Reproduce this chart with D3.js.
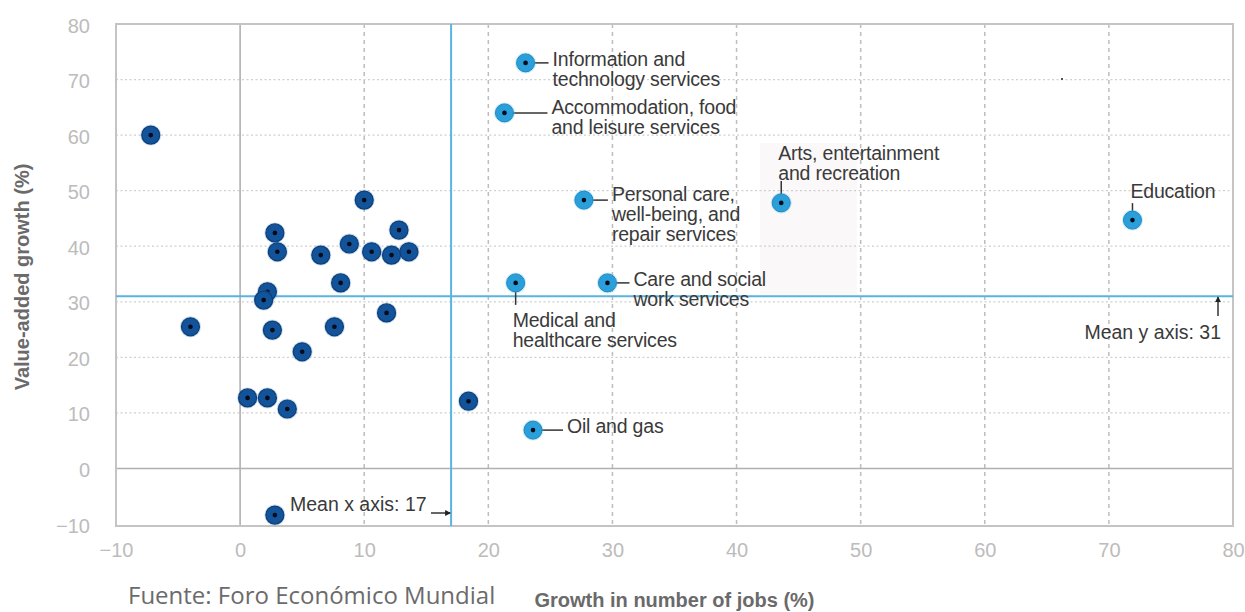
<!DOCTYPE html>
<html>
<head>
<meta charset="utf-8">
<script src="https://cdn.jsdelivr.net/npm/d3@7"></script>
<style>
  html, body { margin: 0; padding: 0; background: #fff; }
  svg { display: block; }
</style>
</head>
<body>
<svg id="chart" width="1245" height="612"></svg>
<script>
// ---------------- DATA ----------------
const xTicks = [-10, 0, 10, 20, 30, 40, 50, 60, 70, 80];
const yTicks = [-10, 0, 10, 20, 30, 40, 50, 60, 70, 80];

// Unlabelled sectors (dark blue)
const otherX = [-7.2, 10.0, 2.8, 3.0, 6.5, 8.8, 8.1, 10.6, 12.2, 12.8, 13.6, 2.2, 1.9, -4.0, 2.6, 7.6, 11.8, 5.0, 0.6, 2.2, 3.8, 2.8, 18.4];
const otherY = [60.0, 48.3, 42.4, 39.0, 38.4, 40.4, 33.4, 39.0, 38.4, 42.9, 39.0, 31.8, 30.3, 25.5, 24.9, 25.5, 28.0, 21.0, 12.7, 12.7, 10.7, -8.4, 12.1];

// Labelled sectors (light blue)
const sectorNames = [
  ["Information and", "technology services"],
  ["Accommodation, food", "and leisure services"],
  ["Personal care,", "well-being, and", "repair services"],
  ["Arts, entertainment", "and recreation"],
  ["Medical and", "healthcare services"],
  ["Care and social", "work services"],
  ["Oil and gas"],
  ["Education"]
];
const sectorX = [23.0, 21.3, 27.7, 43.6, 22.2, 29.6, 23.6, 71.9];
const sectorY = [73.0, 64.0, 48.3, 47.8, 33.4, 33.4, 6.9, 44.7];

const meanX = 17;
const meanY = 31;
const xTitle = "Growth in number of jobs (%)";
const yTitle = "Value-added growth (%)";
const source = "Fuente: Foro Económico Mundial";

// ---------------- LAYOUT ----------------
const labelLayout = [
  {dir: "h", dx: 27, dy: 3},
  {dir: "h", dx: 47, dy: 1},
  {dir: "h", dx: 28, dy: 1},
  {dir: "up", dx: -3, dy: -43, len: 22},
  {dir: "down", dx: -3, dy: 44, len: 22},
  {dir: "h", dx: 26, dy: 3},
  {dir: "h", dx: 34, dy: 3},
  {dir: "up", dx: -2, dy: -22, len: 17}
];
const lineStep = 20;

const svg = d3.select("#chart");
const mLeft = 116, mRight = 1233, mTop = 24, mBottom = 524;

const x = d3.scaleLinear().domain([-10, 80]).range([mLeft, mRight]);
const y = d3.scaleLinear().domain([-10, 80]).range([mBottom, mTop]);

const FONT = "'Liberation Sans', Arial, Helvetica, sans-serif";

// light shaded box near Arts label
svg.append("rect")
  .attr("x", 760).attr("y", 143).attr("width", 97).attr("height", y(meanY) - 143)
  .attr("fill", "#faf8f8");

const g = svg.append("g");
g.selectAll(".vgrid").data(xTicks.filter(d => d > 0 && d < 80)).join("line")
  .attr("x1", d => x(d)).attr("x2", d => x(d))
  .attr("y1", mTop).attr("y2", mBottom + 2)
  .attr("stroke", "#bdbdbd").attr("stroke-width", 1.5)
  .attr("stroke-dasharray", "4,4");
g.selectAll(".hgrid").data(yTicks.filter(d => d > 0 && d < 80)).join("line")
  .attr("x1", mLeft).attr("x2", mRight)
  .attr("y1", d => y(d)).attr("y2", d => y(d))
  .attr("stroke", "#cfcfcf").attr("stroke-width", 1.2)
  .attr("stroke-dasharray", "2,2.5");
g.append("line").attr("x1", x(0)).attr("x2", x(0)).attr("y1", mTop).attr("y2", mBottom + 2)
  .attr("stroke", "#b0b0b0").attr("stroke-width", 1.6);
g.append("line").attr("x1", mLeft).attr("x2", mRight).attr("y1", y(0)).attr("y2", y(0))
  .attr("stroke", "#b0b0b0").attr("stroke-width", 1.6);
g.append("rect").attr("x", mLeft).attr("y", mTop).attr("width", mRight - mLeft).attr("height", mBottom + 2 - mTop)
  .attr("fill", "none").attr("stroke", "#c4c4c4").attr("stroke-width", 2);

g.append("line").attr("x1", x(meanX)).attr("x2", x(meanX)).attr("y1", mTop).attr("y2", mBottom + 2)
  .attr("stroke", "#5ab4e0").attr("stroke-width", 2);
g.append("line").attr("x1", mLeft).attr("x2", mRight).attr("y1", y(meanY)).attr("y2", y(meanY))
  .attr("stroke", "#5ab4e0").attr("stroke-width", 2);

const fmt = d => d < 0 ? "\u2212" + Math.abs(d) : String(d);
const xAxis = d3.axisBottom(x).tickValues(xTicks).tickSize(0).tickPadding(0).tickFormat(fmt);
const xa = svg.append("g").attr("transform", `translate(0, ${mBottom + 26})`).call(xAxis);
xa.select(".domain").remove();
xa.selectAll("text").attr("y", 0).attr("dy", "0.35em").attr("fill", "#bcbcbc")
  .style("font-family", FONT).style("font-size", "20px");

const yAxis = d3.axisLeft(y).tickValues(yTicks).tickSize(0).tickPadding(0).tickFormat(fmt);
const ya = svg.append("g").attr("transform", `translate(90, 1)`).call(yAxis);
ya.select(".domain").remove();
ya.selectAll("text").attr("x", 0).attr("dy", "0.35em").attr("fill", "#bcbcbc")
  .style("font-family", FONT).style("font-size", "20px");

svg.append("text").attr("x", (mLeft + mRight) / 2).attr("y", 607)
  .attr("text-anchor", "middle").attr("fill", "#6a6a6a")
  .style("font-family", FONT).style("font-weight", "bold").style("font-size", "20px")
  .text(xTitle);
svg.append("text").attr("transform", `translate(29, 277) rotate(-90)`)
  .attr("text-anchor", "middle").attr("fill", "#6a6a6a")
  .style("font-family", FONT).style("font-weight", "bold").style("font-size", "20px")
  .text(yTitle);

const src = svg.append("text").attr("x", 128).attr("y", 604)
  .attr("fill", "#6b6b6b")
  .style("font-family", "'Open Sans', 'Noto Sans', sans-serif").style("font-size", "22px")
  .text(source);
const w = src.node().getComputedTextLength();
if (w > 0) src.style("font-size", Math.min(24, 22 * 370 / w).toFixed(2) + "px");

const defs = svg.append("defs");
defs.append("marker").attr("id", "arr").attr("viewBox", "0 0 6 6").attr("refX", 5).attr("refY", 3)
  .attr("markerWidth", 4).attr("markerHeight", 4).attr("orient", "auto")
  .append("path").attr("d", "M0,0 L6,3 L0,6 Z").attr("fill", "#222");

svg.append("line").attr("x1", 431).attr("x2", x(meanX) - 1).attr("y1", 513).attr("y2", 513)
  .attr("stroke", "#333").attr("stroke-width", 1.5).attr("marker-end", "url(#arr)");
svg.append("text").attr("x", 290).attr("y", 511).attr("fill", "#3a3a3a")
  .style("font-family", FONT).style("font-size", "19.5px").text("Mean x axis: " + meanX);

svg.append("line").attr("x1", 1218).attr("x2", 1218).attr("y1", 316).attr("y2", y(meanY) + 1)
  .attr("stroke", "#333").attr("stroke-width", 1.5).attr("marker-end", "url(#arr)");
svg.append("text").attr("x", 1221).attr("y", 339).attr("text-anchor", "end").attr("fill", "#3a3a3a")
  .style("font-family", FONT).style("font-size", "19.5px").text("Mean y axis: " + meanY);

const dots = svg.append("g");
otherX.forEach((vx, i) => {
  const cx = x(vx), cy = y(otherY[i]);
  dots.append("circle").attr("cx", cx).attr("cy", cy).attr("r", 10.5).attr("fill", "#2c6fb0").attr("opacity", 0.25);
  dots.append("circle").attr("cx", cx).attr("cy", cy).attr("r", 9).attr("fill", "#12539a").attr("stroke", "#0b3f7a").attr("stroke-width", 1.2);
  dots.append("circle").attr("cx", cx).attr("cy", cy).attr("r", 2.3).attr("fill", "#050a18");
});

const lab = svg.append("g");
sectorX.forEach((vx, i) => {
  const cx = x(vx), cy = y(sectorY[i]);
  const L = labelLayout[i];
  const tx = cx + L.dx;
  const ty = cy + L.dy;
  if (L.dir === "h") {
    lab.append("line").attr("x1", cx).attr("x2", tx - 4).attr("y1", cy).attr("y2", cy)
      .attr("stroke", "#333").attr("stroke-width", 1.5);
  } else if (L.dir === "up") {
    lab.append("line").attr("x1", cx).attr("x2", cx).attr("y1", cy).attr("y2", cy - L.len)
      .attr("stroke", "#333").attr("stroke-width", 1.5);
  } else {
    lab.append("line").attr("x1", cx).attr("x2", cx).attr("y1", cy).attr("y2", cy + L.len)
      .attr("stroke", "#333").attr("stroke-width", 1.5);
  }
  lab.append("circle").attr("cx", cx).attr("cy", cy).attr("r", 10.5).attr("fill", "#5ab8e6").attr("opacity", 0.3);
  lab.append("circle").attr("cx", cx).attr("cy", cy).attr("r", 9).attr("fill", "#2a9fd9").attr("stroke", "#1d8bc4").attr("stroke-width", 1);
  lab.append("circle").attr("cx", cx).attr("cy", cy).attr("r", 2.3).attr("fill", "#050a18");
  const t = lab.append("text").attr("fill", "#3a3a3a")
    .style("font-family", FONT).style("font-size", "19.5px").style("letter-spacing", "-0.2px");
  sectorNames[i].forEach((line, k) => {
    t.append("tspan").attr("x", tx).attr("y", ty + k * lineStep).text(line);
  });
});

svg.append("circle").attr("cx", 1062).attr("cy", 79).attr("r", 1).attr("fill", "#222");
</script>
</body>
</html>
